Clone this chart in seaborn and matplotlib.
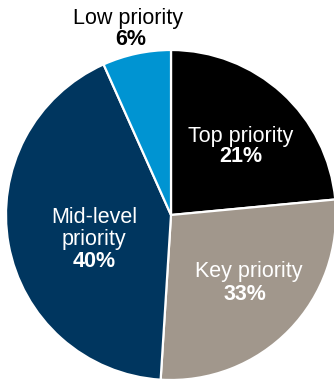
import matplotlib
matplotlib.use("Agg")
import matplotlib.pyplot as plt
import seaborn as sns

# ---- data ----
categories = ["Top priority", "Key priority", "Mid-level priority", "Low priority"]
label_lines = [["Top priority"], ["Key priority"], ["Mid-level", "priority"], ["Low priority"]]
shares = [21, 33, 40, 6]                     # percentages printed on the chart
wedge_sizes = [23.5, 27.5, 42.3, 6.7]        # slice sizes as drawn in the picture
colors = ["#000000", "#a1978c", "#00365f", "#0094d2"]
text_colors = ["white", "white", "white", "black"]

sns.set_style("white")
plt.rcParams["font.family"] = ["Liberation Sans", "DejaVu Sans"]

W, H = 334, 383
DPI = 100
fig = plt.figure(figsize=(W / DPI, H / DPI), dpi=DPI)

cx, cy, R = 171, 215, 165  # pie centre and radius in pixels (from top-left)
ax = fig.add_axes([(cx - R) / W, (H - cy - R) / H, 2 * R / W, 2 * R / H])
ax.pie(wedge_sizes, colors=colors, startangle=90, counterclock=False,
       radius=1.0, wedgeprops=dict(edgecolor="white", linewidth=1.6),
       frame=False)
ax.set_xlim(-1, 1)
ax.set_ylim(-1, 1)
ax.set_aspect("auto")
ax.axis("off")
for p in ax.patches:
    p.set_clip_on(False)

# label layout: (centre x px, baselines px for name lines, baseline px for percent, pct x)
layout = [
    (241, [142], 162, 241),
    (249, [277], 300, 245),
    (94, [223, 245], 267, 94),
    (128, [24], 45, 131),
]

def to_data(px, py):
    return (px - cx) / R, (cy - py) / R

for lines, share, tc, (lx, bases, pb, px) in zip(label_lines, shares, text_colors, layout):
    for line, b in zip(lines, bases):
        x, y = to_data(lx, b)
        ax.text(x, y, line, ha="center", va="baseline", fontsize=15.5,
                color=tc, clip_on=False)
    x, y = to_data(px, pb)
    ax.text(x, y, f"{share}%", ha="center", va="baseline", fontsize=15.5,
            fontweight="bold", color=tc, clip_on=False)

fig.savefig("out.png", dpi=DPI)
